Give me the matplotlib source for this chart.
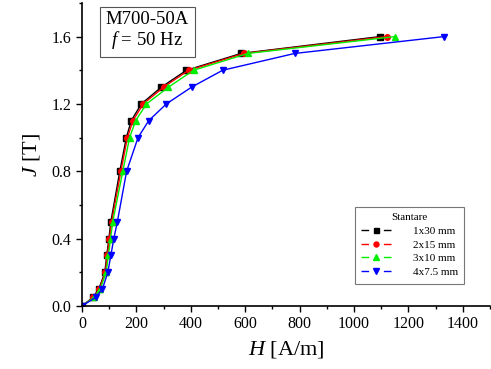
import matplotlib
matplotlib.use("Agg")
import matplotlib.pyplot as plt
from matplotlib.ticker import MultipleLocator, FormatStrFormatter

plt.rcParams['font.family'] = ['Liberation Serif', 'DejaVu Serif']
plt.rcParams['mathtext.fontset'] = 'custom'
plt.rcParams['mathtext.rm'] = 'Liberation Serif'
plt.rcParams['mathtext.it'] = 'Liberation Serif:italic'

# polarization levels [T]
J = [0, 0.05, 0.1, 0.2, 0.3, 0.4, 0.5, 0.8, 1.0, 1.1, 1.2, 1.3, 1.4, 1.5, 1.6]

# field strength [A/m] per sample
H_1x30 = [0, 40, 62, 84, 91, 99, 106, 139, 163, 181, 218, 292, 384, 585, 1095]
H_2x15 = [0, 42, 64, 86, 93, 101, 109, 143, 167, 187, 225, 300, 392, 595, 1120]
H_3x10 = [0, 44, 67, 89, 97, 105, 113, 150, 175, 197, 237, 318, 410, 610, 1150]
H_4x75 = [0, 50, 75, 95, 106, 117, 130, 164, 206, 245, 310, 403, 517, 782, 1330]

labels = ['1x30 mm', '2x15 mm', '3x10 mm', '4x7.5 mm']

fig = plt.figure(figsize=(4.91, 3.69), dpi=100)
ax = fig.add_axes([0.167, 0.171, 0.831, 0.821])

ax.plot(H_1x30, J, color='black', marker='s', ms=4, lw=1.0, label=labels[0])
ax.plot(H_2x15, J, color='red', marker='o', ms=4, lw=1.0, label=labels[1])
ax.plot(H_3x10, J, color='#00ee00', marker='^', ms=5, lw=1.0, label=labels[2])
ax.plot(H_4x75, J, color='blue', marker='v', ms=5, lw=1.0, label=labels[3])

ax.set_xlim(0, 1500)
ax.set_ylim(0, 1.8)
ax.xaxis.set_major_locator(MultipleLocator(200))
ax.xaxis.set_minor_locator(MultipleLocator(100))
ax.yaxis.set_major_locator(MultipleLocator(0.4))
ax.yaxis.set_minor_locator(MultipleLocator(0.2))
ax.yaxis.set_major_formatter(FormatStrFormatter('%.1f'))
ax.tick_params(which='major', direction='out', length=4, width=1, labelsize=11.5)
ax.tick_params(which='minor', direction='out', length=2.5, width=1)
ax.spines['top'].set_visible(False)
ax.spines['right'].set_visible(False)
for s in ('left', 'bottom'):
    ax.spines[s].set_linewidth(1.2)

ax.set_xlabel('$H$ [A/m]', fontsize=16, labelpad=5)
ax.set_ylabel('$J$ [T]', fontsize=16, labelpad=7)

ax.text(0.16, 0.975, 'M700-50A\n$f$ = 50 Hz', transform=ax.transAxes,
        ha='center', va='top', fontsize=13.5, linespacing=1.1,
        bbox=dict(boxstyle='square,pad=0.3', fc='white', ec='#555555', lw=0.8))

leg = ax.legend(loc='lower left', bbox_to_anchor=(0.655, 0.055), fontsize=8,
                title='Stantare', title_fontsize=8, frameon=True, fancybox=False,
                edgecolor='#555555', handlelength=2.7, handletextpad=1.9,
                borderpad=0.6, labelspacing=0.35, markerscale=0.9)
leg.get_frame().set_linewidth(0.8)
for h in leg.legend_handles:
    h.set_linestyle((0, (5.5, 10.6, 20, 0)))

fig.savefig('out.png', dpi=100)
